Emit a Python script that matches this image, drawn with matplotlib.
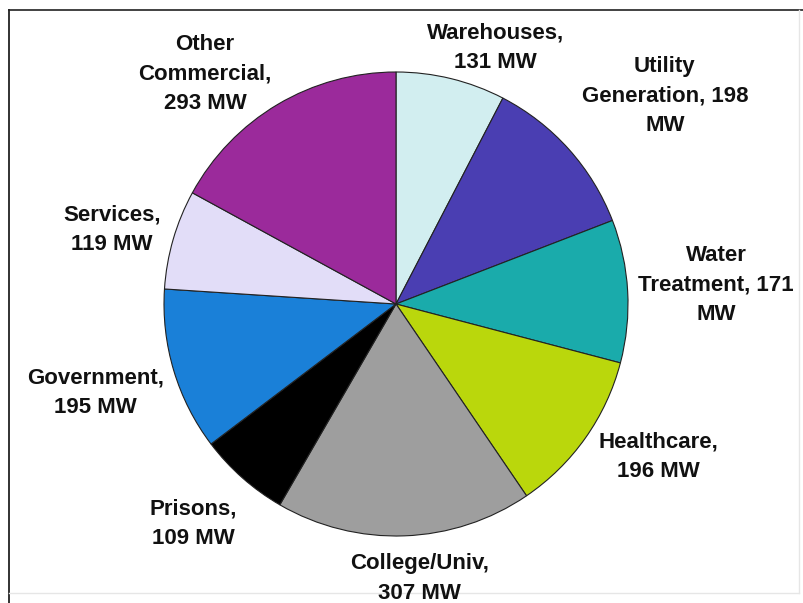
import matplotlib
matplotlib.use("Agg")
import matplotlib.pyplot as plt
from matplotlib.lines import Line2D

# Installed capacity by sector (MW), clockwise from 12 o'clock
categories = ["Warehouses", "Utility Generation", "Water Treatment", "Healthcare",
              "College/Univ", "Prisons", "Government", "Services", "Other Commercial"]
values = [131, 198, 171, 196, 307, 109, 195, 119, 293]
label_formats = [
    "Warehouses,\n{v} MW",
    "Utility\nGeneration, {v}\nMW",
    "Water\nTreatment, {v}\nMW",
    "Healthcare,\n{v} MW",
    "College/Univ,\n{v} MW",
    "Prisons,\n{v} MW",
    "Government,\n{v} MW",
    "Services,\n{v} MW",
    "Other\nCommercial,\n{v} MW",
]
colors = ["#D2EEF0", "#4A3EB2", "#1AABAB", "#BAD70C", "#9E9E9E",
          "#000000", "#1A80D8", "#E2DDF8", "#9B2A9B"]

# label anchor positions in pie-radius units
label_pos = [(0.43, 1.103), (1.159, 0.897), (1.379, 0.082), (1.129, -0.659),
             (0.103, -1.183), (-0.875, -0.948), (-1.297, -0.384),
             (-1.224, 0.319), (-0.823, 0.991)]

W, H = 804, 603
fig = plt.figure(figsize=(W / 100, H / 100), dpi=100)
fig.patch.set_facecolor("white")

cx, cy, r = 396, 304, 232
ax = fig.add_axes([(cx - r) / W, (H - cy - r) / H, 2 * r / W, 2 * r / H])
ax.set_zorder(2)
ax.pie(values, colors=colors, startangle=90, counterclock=False,
       wedgeprops=dict(edgecolor="#222222", linewidth=0.8))
ax.set_xlim(-1, 1)
ax.set_ylim(-1, 1)
ax.set_aspect("equal")
ax.axis("off")

for fmt, v, (x, y) in zip(label_formats, values, label_pos):
    ax.text(x, y, fmt.format(v=v), ha="center", va="center",
            fontsize=16, fontweight="bold", family="Liberation Sans",
            linespacing=1.52, color="#111111", clip_on=False)

# outer frame: dark top/left, faint right/bottom
def px_line(x0, y0, x1, y1, color, lw):
    fig.add_artist(Line2D([x0 / W, x1 / W], [1 - y0 / H, 1 - y1 / H],
                          transform=fig.transFigure, color=color,
                          linewidth=lw, zorder=0))

px_line(9, 10, 804, 10, "#333333", 1.3)
px_line(9, 10, 9, 603, "#222222", 1.3)
px_line(799, 10, 799, 593, "#E6E6E6", 1.0)
px_line(9, 593, 799, 593, "#E6E6E6", 1.0)

fig.savefig("out.png", dpi=100, facecolor="white")
